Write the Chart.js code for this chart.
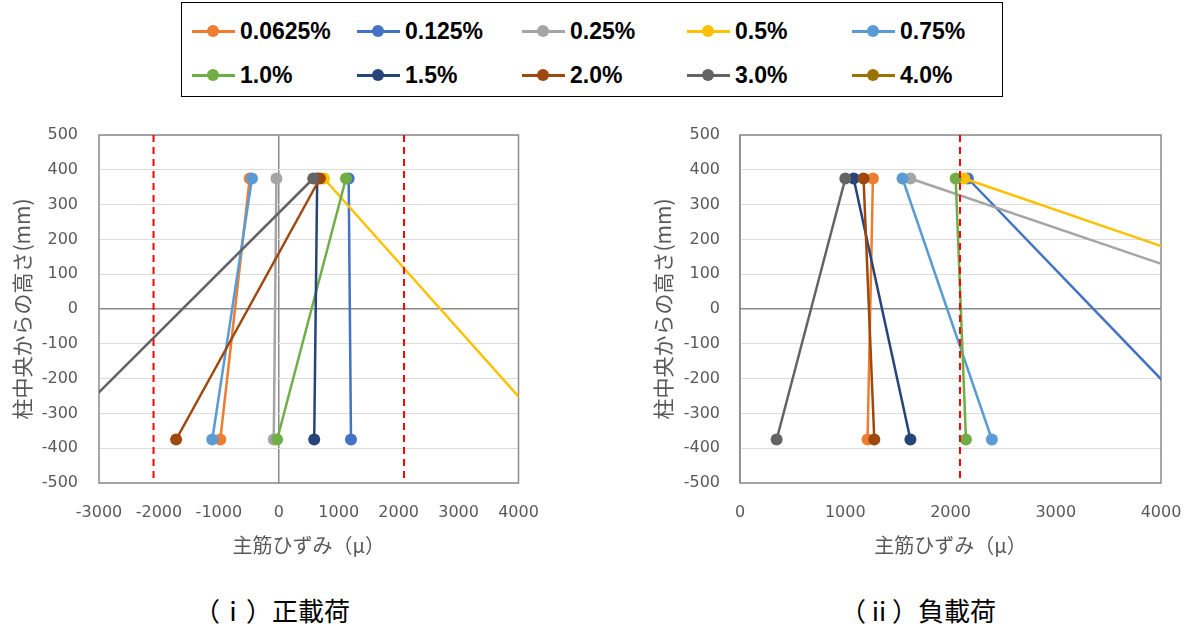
<!DOCTYPE html>
<html><head><meta charset="utf-8">
<script src="https://cdn.jsdelivr.net/npm/chart.js@4.4.1/dist/chart.umd.min.js"></script>
<style>
html,body{margin:0;padding:0;background:#fff;width:1192px;height:626px;overflow:hidden;position:relative;}
#legend{position:absolute;left:181px;top:2px;width:822px;height:95px;border:1px solid #000;box-sizing:border-box;}
.item{position:absolute;height:24px;width:160px;}
.item .line{position:absolute;left:0;top:10.5px;width:43px;height:3px;}
.item .dot{position:absolute;left:15px;top:6px;width:12px;height:12px;border-radius:50%;}
.item .lbl{position:absolute;left:48px;top:0;font:bold 23px "Liberation Sans";line-height:24px;white-space:nowrap;color:#000;}
canvas{position:absolute;}
.cap{position:absolute;top:592px;font:26px "Noto Sans CJK JP";color:#000;text-align:center;width:300px;line-height:36px;white-space:nowrap;}
</style></head>
<body>
<div id="legend"></div>
<canvas id="c1" width="560" height="470" style="left:0;top:100px;width:560px;height:470px"></canvas>
<canvas id="c2" width="552" height="470" style="left:640px;top:100px;width:552px;height:470px"></canvas>
<div class="cap" style="left:122px">（ⅰ）正載荷</div>
<div class="cap" style="left:768px">（ⅱ）負載荷</div>
<script>
// ---- data ----
const seriesLabels = ['0.0625%','0.125%','0.25%','0.5%','0.75%','1.0%','1.5%','2.0%','3.0%','4.0%'];
const seriesColors = ['#ED7D31','#4472C4','#A5A5A5','#FFC000','#5B9BD5','#70AD47','#264478','#9E480E','#636363','#997300'];
const heights = [375, -375];               // 柱中央からの高さ (mm): upper / lower gauge
// (i) 正載荷: strain at upper / lower gauge
const posTop    = [-485, 1166, -40,  753, -447, 1121, 641,  686,   575, null];
const posBottom = [-976, 1205, -84, 4640, -1110, -28, 591, -1713, -3790, null];
// (ii) 負載荷
const negTop    = [1263, 2165, 1619, 2130, 1544, 2049, 1080, 1174, 1001, null];
const negBottom = [1212, 4552, 8909, 9360, 2393, 2147, 1619, 1276,  348, null];
// yield strain reference lines
const posYield = [-2090, 2090];
const negYield = [2090];
// ticks
const posXTicks = [-3000, -2000, -1000, 0, 1000, 2000, 3000, 4000];
const negXTicks = [0, 1000, 2000, 3000, 4000];
const yTicks = [-500, -400, -300, -200, -100, 0, 100, 200, 300, 400, 500];
const xTitle = '主筋ひずみ（μ）';
const yTitle = '柱中央からの高さ(mm)';

// ---- legend (HTML) ----
const legend = document.getElementById('legend');
seriesLabels.forEach((lab, i) => {
  const col = i % 5, row = Math.floor(i / 5);
  const it = document.createElement('div');
  it.className = 'item';
  it.style.left = (10 + col * 165) + 'px';
  it.style.top = (16 + row * 44) + 'px';
  it.innerHTML = '<div class="line" style="background:' + seriesColors[i] + '"></div>' +
                 '<div class="dot" style="background:' + seriesColors[i] + '"></div>' +
                 '<div class="lbl">' + lab + '</div>';
  legend.appendChild(it);
});

// ---- charts ----
function buildDatasets(top, bottom, yields) {
  const ds = [];
  yields.forEach(v => ds.push({
    label: 'yield', data: [{x: v, y: yTicks[yTicks.length - 1]}, {x: v, y: yTicks[0]}],
    borderColor: '#FF0000', backgroundColor: '#FF0000', borderWidth: 2, borderDash: [7, 5],
    pointRadius: 0, showLine: true, order: -1
  }));
  seriesLabels.forEach((lab, i) => {
    const data = [];
    if (top[i] != null) data.push({x: top[i], y: heights[0]});
    if (bottom[i] != null) data.push({x: bottom[i], y: heights[1]});
    ds.push({
      label: lab, data, borderColor: seriesColors[i], backgroundColor: seriesColors[i],
      borderWidth: 2.5, pointRadius: 6, pointHoverRadius: 6, pointBorderWidth: 0,
      showLine: true, order: seriesLabels.length - i
    });
  });
  return ds;
}

const frame = {
  id: 'frame',
  beforeDatasetsDraw(chart) {
    const {ctx, chartArea: a} = chart;
    ctx.save();
    ctx.strokeStyle = '#8a8a8a';
    ctx.lineWidth = 1.5;
    ctx.strokeRect(a.left, a.top, a.right - a.left, a.bottom - a.top);
    ctx.restore();
  }
};

function makeChart(id, top, bottom, yields, xTicks, opt) {
  return new Chart(document.getElementById(id), {
    type: 'scatter',
    data: {datasets: buildDatasets(top, bottom, yields)},
    plugins: [frame],
    options: {
      responsive: false, animation: false, devicePixelRatio: 1,
      layout: {padding: {top: 35, right: opt.padRight, left: 0, bottom: 0}},
      plugins: {legend: {display: false}, tooltip: {enabled: false}},
      scales: {
        x: {
          type: 'linear', min: xTicks[0], max: xTicks[xTicks.length - 1],
          afterBuildTicks: s => { s.ticks = xTicks.map(v => ({value: v})); },
          afterFit: s => { s.height = 87; s.paddingLeft = 0; s.paddingRight = 0; },
          ticks: {autoSkip: false, maxRotation: 0, padding: 20, color: '#595959',
                  font: {family: 'DejaVu Sans', size: 16}, callback: v => String(v)},
          grid: {drawTicks: false, lineWidth: 1.5,
                 color: c => (c.tick && c.tick.value === 0) ? '#8a8a8a' : 'rgba(0,0,0,0)'},
          border: {display: false},
          title: {display: true, text: xTitle, color: '#595959',
                  font: {family: 'Noto Sans CJK JP', size: 20}, padding: {top: 0, bottom: 13}}
        },
        y: {
          type: 'linear', min: yTicks[0], max: yTicks[yTicks.length - 1],
          afterBuildTicks: s => { s.ticks = yTicks.map(v => ({value: v})); },
          afterFit: s => { s.width = opt.yWidth; s.paddingTop = 0; s.paddingBottom = 0; },
          ticks: {autoSkip: false, padding: opt.yPad, color: '#595959',
                  font: {family: 'DejaVu Sans', size: 16}, callback: v => String(v)},
          grid: {drawTicks: false,
                 lineWidth: c => (c.tick && c.tick.value === 0) ? 1.5 : 1,
                 color: c => (c.tick && c.tick.value === 0) ? '#8a8a8a' : '#dcdcdc'},
          border: {display: false},
          title: {display: true, text: yTitle, color: '#595959',
                  font: {family: 'Noto Sans CJK JP', size: 21}, padding: {top: opt.yTitlePad, bottom: 0}}
        }
      }
    }
  });
}

makeChart('c1', posTop, posBottom, posYield, posXTicks, {padRight: 41.5, yWidth: 99, yPad: 21, yTitlePad: 9.5});
makeChart('c2', negTop, negBottom, negYield, negXTicks, {padRight: 31, yWidth: 100, yPad: 20, yTitlePad: 10.5});
</script>
</body></html>
